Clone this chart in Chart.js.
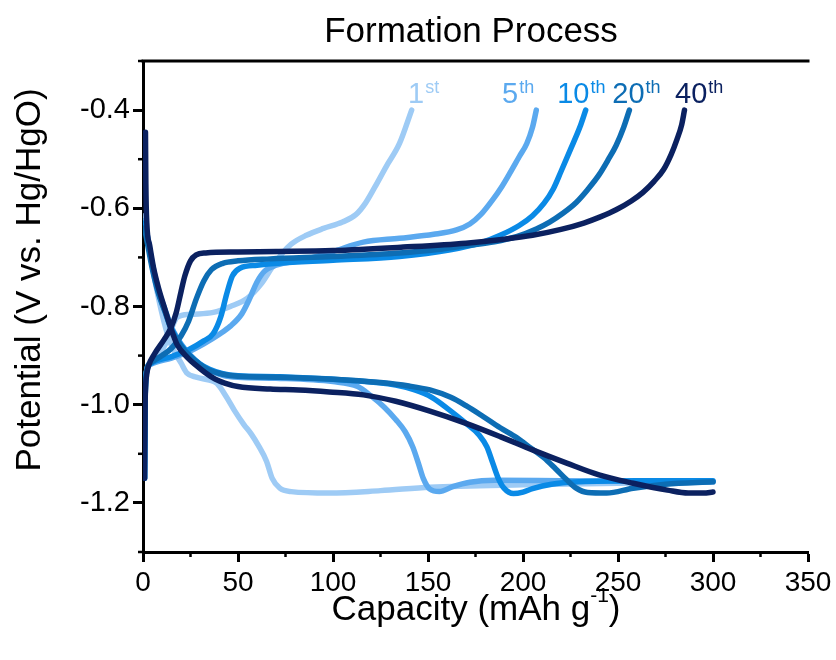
<!DOCTYPE html>
<html>
<head>
<meta charset="utf-8">
<script src="https://cdn.jsdelivr.net/npm/chart.js@4.4.1/dist/chart.umd.min.js"></script>
<style>
  html, body { margin: 0; padding: 0; background: #ffffff; }
  #wrap { width: 836px; height: 660px; }
</style>
</head>
<body>
<div id="wrap"><canvas id="chart" width="836" height="660"></canvas></div>
<script>
// Galvanostatic charge/discharge profiles during formation, [capacity (mAh/g), potential (V vs. Hg/HgO)]
const cycles = ['1', '5', '10', '20', '40'];
const suffixes = ['st', 'th', 'th', 'th', 'th'];
const colors = ['#9ecbf5', '#5ba9ef', '#0a8ae6', '#0d6db4', '#0b2160'];

const charge1st = [[0.8,-1.15],[1.1,-1.0],[1.6,-0.94],[3,-0.918],[8,-0.9],[12,-0.875],[15,-0.845],[18,-0.822],[25,-0.816],[37,-0.812],[46,-0.80],[55,-0.783],[62,-0.755],[68,-0.72],[73,-0.693],[78,-0.673],[86,-0.655],[95,-0.641],[105,-0.628],[112,-0.613],[117,-0.59],[122,-0.557],[128,-0.515],[135,-0.468],[141.4,-0.40]];
const charge5th = [[0.8,-1.15],[1.1,-1.0],[1.6,-0.94],[4,-0.918],[15,-0.905],[24,-0.892],[32,-0.876],[40,-0.857],[46,-0.84],[52,-0.815],[56,-0.785],[60,-0.75],[64,-0.728],[70,-0.716],[85,-0.705],[100,-0.688],[116,-0.669],[135,-0.661],[153,-0.653],[165,-0.644],[172,-0.632],[178,-0.612],[184,-0.583],[189,-0.555],[193,-0.529],[198,-0.495],[202,-0.468],[205,-0.435],[207,-0.40]];
const charge10th = [[0.8,-1.15],[1.1,-1.0],[1.6,-0.94],[4,-0.916],[15,-0.902],[24,-0.888],[32,-0.87],[37,-0.855],[41,-0.82],[44,-0.775],[47,-0.738],[51,-0.722],[60,-0.716],[71,-0.712],[100,-0.706],[135,-0.698],[161,-0.685],[178,-0.67],[188,-0.655],[198,-0.635],[205,-0.615],[211,-0.59],[216,-0.56],[220,-0.525],[225,-0.48],[230,-0.434],[233,-0.40]];
const charge20th = [[0.8,-1.15],[1.1,-1.0],[1.6,-0.94],[4,-0.915],[10,-0.9],[15,-0.885],[20,-0.86],[24,-0.83],[28,-0.785],[32,-0.748],[36,-0.725],[42,-0.712],[50,-0.707],[67,-0.703],[100,-0.698],[135,-0.691],[155,-0.684],[170,-0.676],[185,-0.668],[197,-0.657],[207,-0.642],[214,-0.628],[221,-0.61],[228,-0.588],[234,-0.562],[240,-0.532],[245,-0.5],[249,-0.472],[253,-0.435],[256,-0.40]];
const charge40th = [[0.8,-1.15],[1.1,-1.0],[1.9,-0.94],[3,-0.92],[6,-0.897],[11,-0.868],[14.5,-0.845],[17.5,-0.812],[20,-0.77],[22,-0.738],[25,-0.707],[28,-0.695],[33,-0.691],[50,-0.689],[70,-0.688],[100,-0.686],[137,-0.679],[170,-0.671],[190,-0.663],[205,-0.655],[220,-0.643],[232,-0.63],[241,-0.617],[249,-0.603],[257,-0.585],[263,-0.568],[269,-0.545],[274,-0.521],[278,-0.49],[281,-0.46],[283.5,-0.43],[285,-0.40]];

const discharge1st = [[0.8,-0.615],[2.5,-0.66],[5,-0.72],[8,-0.78],[11,-0.83],[14,-0.87],[17,-0.895],[20,-0.915],[23,-0.935],[28,-0.944],[35,-0.95],[39,-0.957],[44,-0.985],[48,-1.011],[53,-1.04],[57,-1.06],[61,-1.085],[65,-1.115],[68,-1.15],[72,-1.17],[78,-1.177],[98,-1.18],[125,-1.175],[151,-1.168],[200,-1.163],[250,-1.16],[300,-1.157]];
const discharge5th = [[0.8,-0.625],[2.5,-0.66],[5,-0.715],[8,-0.765],[11.5,-0.805],[15,-0.842],[20,-0.876],[25,-0.9],[30,-0.918],[35,-0.93],[42,-0.94],[50,-0.944],[70,-0.946],[100,-0.953],[113,-0.963],[120,-0.982],[127,-1.005],[133,-1.03],[138,-1.055],[142,-1.086],[145,-1.12],[147.5,-1.15],[151,-1.172],[156,-1.177],[163,-1.167],[172,-1.158],[185,-1.154],[220,-1.155],[260,-1.156],[300,-1.157]];
const discharge10th = [[0.8,-0.63],[2.5,-0.665],[5,-0.718],[8,-0.768],[11.5,-0.808],[15,-0.845],[20,-0.878],[25,-0.9],[30,-0.917],[35,-0.928],[42,-0.937],[50,-0.941],[72,-0.943],[107,-0.95],[133,-0.96],[143,-0.97],[152,-0.985],[161,-1.01],[170,-1.038],[177,-1.062],[181,-1.086],[184,-1.118],[187,-1.15],[190,-1.17],[195,-1.181],[200,-1.178],[205,-1.171],[215,-1.162],[230,-1.157],[260,-1.155],[300,-1.155]];
const discharge20th = [[0.8,-0.64],[2.5,-0.675],[5,-0.725],[8,-0.772],[11.5,-0.81],[15,-0.848],[20,-0.88],[25,-0.902],[30,-0.918],[35,-0.93],[42,-0.938],[50,-0.942],[72,-0.944],[100,-0.948],[125,-0.955],[140,-0.962],[151,-0.97],[162,-0.985],[170,-1.002],[179,-1.024],[188,-1.047],[197,-1.068],[204,-1.088],[211,-1.108],[217,-1.13],[223,-1.153],[228,-1.17],[234,-1.179],[244,-1.18],[258,-1.17],[275,-1.162],[300,-1.157]];
const discharge40th = [[1.3,-0.445],[1.5,-0.55],[2,-0.63],[3.5,-0.675],[5.5,-0.72],[8,-0.76],[11.5,-0.805],[14.7,-0.845],[18,-0.878],[23.7,-0.905],[28,-0.92],[32.5,-0.934],[38,-0.948],[43,-0.956],[50,-0.963],[67,-0.968],[82,-0.97],[98,-0.974],[116,-0.98],[133,-0.993],[151,-1.013],[170,-1.038],[188,-1.065],[205,-1.092],[223,-1.119],[240,-1.143],[258,-1.16],[276,-1.174],[287,-1.18],[295,-1.18],[300,-1.178]];

const chargeCurves = [charge1st, charge5th, charge10th, charge20th, charge40th];
const dischargeCurves = [discharge1st, discharge5th, discharge10th, discharge20th, discharge40th];

// Axis ticks
const xTicks = [0, 50, 100, 150, 200, 250, 300, 350];
const xMinorTicks = [25, 75, 125, 175, 225, 275, 325];
const yTicks = [-1.2, -1.0, -0.8, -0.6, -0.4];
const yMinorTicks = [-1.3, -1.1, -0.9, -0.7, -0.5, -0.3];

// Cycle label placement: left edge (capacity) and baseline (potential)
const labelCapacity = [139.5, 189, 218, 247, 280];
const labelPotential = -0.386;

const FONT = '"Liberation Sans", Arial, Helvetica, sans-serif';

const datasets = [];
cycles.forEach((c, i) => {
  [chargeCurves[i], dischargeCurves[i]].forEach(curve => {
    datasets.push({
      label: c + suffixes[i],
      data: curve.map(([x, y]) => ({ x, y })),
      showLine: true,
      borderColor: colors[i],
      backgroundColor: colors[i],
      borderWidth: 5.5,
      pointRadius: 0,
      cubicInterpolationMode: 'monotone',
      fill: false,
      borderCapStyle: 'round',
      borderJoinStyle: 'round',
      order: cycles.length - 1 - i
    });
  });
});

const decorations = {
  id: 'decorations',
  afterDraw(chart) {
    const { ctx, chartArea: a, scales } = chart;
    const xs = scales.x, ys = scales.y;
    ctx.save();
    ctx.strokeStyle = '#000';
    ctx.lineWidth = 3;
    // top frame line
    ctx.beginPath();
    ctx.moveTo(a.left - 1.5, a.top);
    ctx.lineTo(a.right + 1.5, a.top);
    ctx.stroke();
    // minor ticks
    ctx.lineWidth = 2.5;
    xMinorTicks.forEach(v => {
      const px = xs.getPixelForValue(v);
      ctx.beginPath(); ctx.moveTo(px, a.bottom); ctx.lineTo(px, a.bottom + 5); ctx.stroke();
    });
    yMinorTicks.forEach(v => {
      const py = ys.getPixelForValue(v);
      ctx.beginPath(); ctx.moveTo(a.left, py); ctx.lineTo(a.left - 5, py); ctx.stroke();
    });

    ctx.fillStyle = '#000';
    ctx.textBaseline = 'alphabetic';
    // title
    ctx.font = '35px ' + FONT;
    ctx.textAlign = 'center';
    ctx.fillText('Formation Process', 471, 42);

    // x-axis title with superscript
    const main = 'Capacity (mAh g', sup = '-1', close = ')';
    ctx.font = '35px ' + FONT;
    const wMain = ctx.measureText(main).width;
    const wClose = ctx.measureText(close).width;
    ctx.font = '21px ' + FONT;
    const wSup = ctx.measureText(sup).width;
    let x0 = 476 - (wMain + wSup + wClose) / 2;
    ctx.textAlign = 'left';
    ctx.font = '35px ' + FONT;
    ctx.fillText(main, x0, 620);
    ctx.font = '21px ' + FONT;
    ctx.fillText(sup, x0 + wMain, 602);
    ctx.font = '35px ' + FONT;
    ctx.fillText(close, x0 + wMain + wSup, 620);

    // y-axis title
    ctx.save();
    ctx.translate(40, 280);
    ctx.rotate(-Math.PI / 2);
    ctx.textAlign = 'center';
    ctx.font = '35px ' + FONT;
    ctx.fillText('Potential (V vs. Hg/HgO)', 0, 0);
    ctx.restore();

    // cycle labels
    cycles.forEach((c, i) => {
      const lx = xs.getPixelForValue(labelCapacity[i]);
      const ly = ys.getPixelForValue(labelPotential);
      ctx.fillStyle = colors[i];
      ctx.textAlign = 'left';
      ctx.font = '29px ' + FONT;
      ctx.fillText(c, lx, ly);
      const w = ctx.measureText(c).width;
      ctx.font = '18px ' + FONT;
      ctx.fillText(suffixes[i], lx + w + 1, ly - 10);
    });
    ctx.restore();
  }
};

new Chart(document.getElementById('chart'), {
  type: 'scatter',
  data: { datasets },
  options: {
    responsive: false,
    animation: false,
    layout: { padding: { top: 61, right: 28, bottom: 0, left: 0 } },
    plugins: { legend: { display: false }, tooltip: { enabled: false }, title: { display: false } },
    scales: {
      x: {
        type: 'linear',
        min: 0,
        max: 350,
        afterBuildTicks: s => { s.ticks = xTicks.map(v => ({ value: v })); },
        afterFit: s => { s.height = 108; },
        ticks: { color: '#000', font: { family: FONT, size: 28 }, padding: 4, maxRotation: 0, callback: v => String(v) },
        grid: { drawOnChartArea: false, drawTicks: true, tickLength: 10, tickWidth: 3, tickColor: '#000' },
        border: { display: true, color: '#000', width: 3 }
      },
      y: {
        type: 'linear',
        min: -1.3,
        max: -0.3,
        afterBuildTicks: s => { s.ticks = yTicks.map(v => ({ value: v })); },
        afterFit: s => { s.width = 143; },
        ticks: { color: '#000', font: { family: FONT, size: 29 }, padding: 3, callback: v => v.toFixed(1) },
        grid: { drawOnChartArea: false, drawTicks: true, tickLength: 10, tickWidth: 3, tickColor: '#000' },
        border: { display: true, color: '#000', width: 3 }
      }
    }
  },
  plugins: [decorations]
});
</script>
</body>
</html>
